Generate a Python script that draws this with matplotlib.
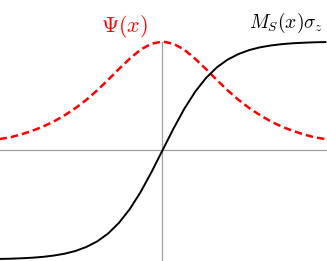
import matplotlib
matplotlib.use("Agg")
import matplotlib.pyplot as plt

plt.rcParams['mathtext.fontset'] = 'cm'

# Sample positions and values
x_vals = [-3.0, -2.8, -2.6, -2.4, -2.2, -2.0, -1.8, -1.6, -1.4, -1.2, -1.0,
          -0.8, -0.6, -0.4, -0.2, 0.0, 0.2, 0.4, 0.6, 0.8, 1.0,
          1.2, 1.4, 1.6, 1.8, 2.0, 2.2, 2.4, 2.6, 2.8, 3.0]
ms_vals = [-0.995, -0.993, -0.989, -0.984, -0.976, -0.964, -0.947, -0.922,
           -0.885, -0.834, -0.762, -0.664, -0.537, -0.380, -0.197, 0.0,
           0.197, 0.380, 0.537, 0.664, 0.762, 0.834, 0.885, 0.922, 0.947,
           0.964, 0.976, 0.984, 0.989, 0.993, 0.995]
psi_vals = [0.105, 0.121, 0.148, 0.180, 0.219, 0.266, 0.323, 0.389, 0.465,
            0.552, 0.648, 0.748, 0.843, 0.926, 0.980, 1.0, 0.980, 0.926,
            0.843, 0.748, 0.648, 0.552, 0.465, 0.389, 0.323, 0.266, 0.219,
            0.180, 0.148, 0.121, 0.105]

fig = plt.figure(figsize=(3.27, 2.61), dpi=100)
ax = fig.add_axes([0, 0, 1, 1])
ymin, ymax = -1.014, 1.381
ax.axhline(0, color='#a0a0a0', lw=0.9, zorder=1)
ax.plot([0, 0], [ymin, max(psi_vals)], color='#a0a0a0', lw=0.9, zorder=1)
ax.plot(x_vals, psi_vals, color='#ff0000', lw=1.8, ls=(0, (3, 1.6)), zorder=2)
ax.plot(x_vals, ms_vals, color='black', lw=1.4, zorder=3)

ax.text(-0.26, 1.135, r'$\Psi(x)$', color='#ff0000', fontsize=16,
        ha='right', va='center')
ax.text(2.96, 1.17, r'$M_S(x)\sigma_z$', color='black', fontsize=14,
        ha='right', va='center')

ax.set_xlim(-2.99, 3.03)
ax.set_ylim(ymin, ymax)
ax.axis('off')
fig.savefig('out.png', dpi=100)
